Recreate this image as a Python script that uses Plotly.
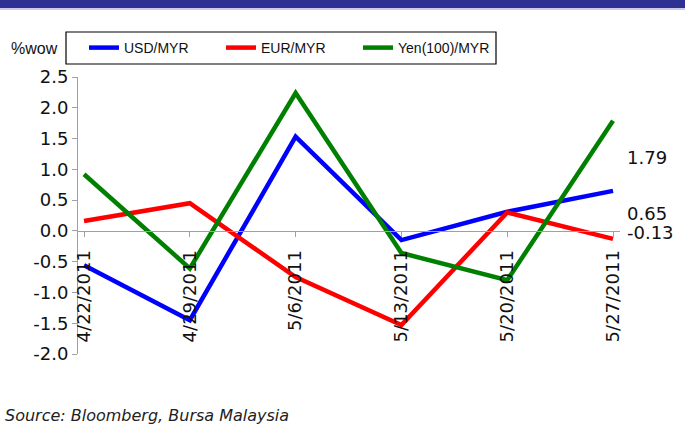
import plotly.graph_objects as go

dates = ["4/22/2011", "4/29/2011", "5/6/2011", "5/13/2011", "5/20/2011", "5/27/2011"]
usd_myr = [-0.56, -1.45, 1.53, -0.15, 0.31, 0.65]
eur_myr = [0.16, 0.45, -0.75, -1.53, 0.30, -0.13]
yen_myr = [0.92, -0.61, 2.24, -0.36, -0.80, 1.79]
series_names = ["USD/MYR", "EUR/MYR", "Yen(100)/MYR"]
colors = ["#0000FF", "#FF0000", "#008000"]
yticks = [-2.0, -1.5, -1.0, -0.5, 0.0, 0.5, 1.0, 1.5, 2.0, 2.5]

W, H = 685, 425
ml, mr, mt, mb = 78, 65, 77, 71
pw, ph = W - ml - mr, H - mt - mb

def py(p):  # pixel y -> paper y
    return (H - mb - p) / ph

def px(p):  # pixel x -> paper x
    return (p - ml) / pw

xi = list(range(len(dates)))
fig = go.Figure()
for name, vals, c in zip(series_names, [usd_myr, eur_myr, yen_myr], colors):
    fig.add_trace(go.Scatter(x=xi, y=vals, mode="lines", name=name,
                             line=dict(color=c, width=4.5)))

# right-side value labels (as in original: last-point values)
label_pos = [(yen_myr[-1], 1.20), (usd_myr[-1], 0.28), (eur_myr[-1], -0.02)]
for v, ypos in label_pos:
    fig.add_annotation(x=5, y=ypos, xref="x", yref="y", text=f"{v:.2f}",
                       showarrow=False, xanchor="left", yanchor="middle",
                       xshift=12, font=dict(family="DejaVu Sans", size=18, color="#111"))

fig.add_annotation(x=px(9), y=py(48), xref="paper", yref="paper", text="%wow",
                   showarrow=False, xanchor="left", yanchor="middle",
                   font=dict(family="Liberation Sans", size=16, color="#111"))
fig.add_annotation(x=px(3), y=py(415), xref="paper", yref="paper",
                   text="<i>Source: Bloomberg, Bursa Malaysia</i>",
                   showarrow=False, xanchor="left", yanchor="middle",
                   font=dict(family="DejaVu Sans", size=16, color="#222"))

# header band
fig.add_shape(type="rect", xref="paper", yref="paper",
              x0=px(-5), x1=px(W + 5), y0=py(8), y1=py(-5),
              fillcolor="#2E3192", line_width=0, layer="above")
fig.add_shape(type="line", xref="paper", yref="paper",
              x0=px(-5), x1=px(W + 5), y0=py(9), y1=py(9),
              line=dict(color="#B8B8E8", width=1.5))
# legend frame
fig.add_shape(type="rect", xref="paper", yref="paper",
              x0=px(66), x1=px(496), y0=py(64), y1=py(32),
              line=dict(color="black", width=1.2), fillcolor="rgba(0,0,0,0)")

fig.update_layout(
    width=W, height=H,
    margin=dict(l=ml, r=mr, t=mt, b=mb),
    paper_bgcolor="white", plot_bgcolor="white",
    font=dict(family="DejaVu Sans", size=18, color="#111"),
    showlegend=True,
    legend=dict(orientation="h", x=px(84), y=py(48), xanchor="left", yanchor="middle",
                borderwidth=0, bgcolor="rgba(0,0,0,0)",
                entrywidth=92, entrywidthmode="pixels",
                font=dict(family="Liberation Sans", size=14, color="#111"),
                itemwidth=30, tracegroupgap=0),
    xaxis=dict(range=[-0.057, 5.066], tickvals=xi, ticktext=dates, tickangle=-90,
               anchor="free", position=2 / 4.5, showline=True, linecolor="#A0A0A0",
               linewidth=1, ticks="outside", ticklen=5, tickcolor="#A0A0A0",
               showgrid=False, zeroline=False, ticklabelstandoff=6,
               tickfont=dict(family="DejaVu Sans", size=18, color="#111")),
    yaxis=dict(range=[-2.0, 2.5], tickvals=yticks,
               ticktext=[f"{v:.1f}" for v in yticks], showline=True,
               linecolor="#A0A0A0", linewidth=1, ticks="outside", ticklen=5,
               tickcolor="#A0A0A0", showgrid=False, zeroline=False,
               tickfont=dict(family="DejaVu Sans", size=18, color="#111")),
)

fig.write_html("out.html")
